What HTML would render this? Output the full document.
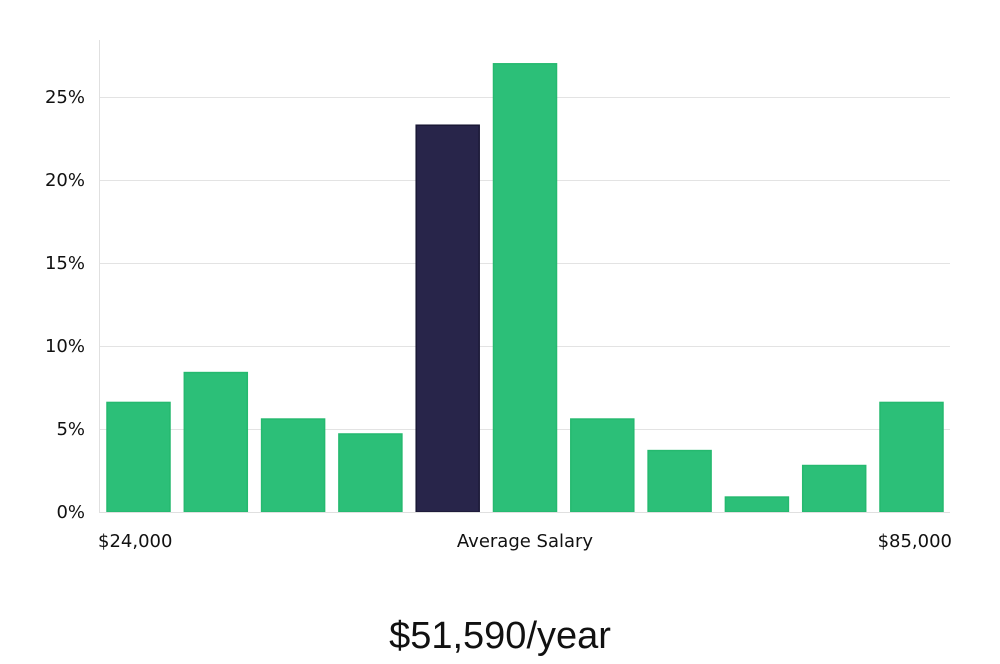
<!DOCTYPE html>
<html><head><meta charset="utf-8"><style>
body{margin:0;background:#fff;width:1000px;height:660px;overflow:hidden;font-family:"DejaVu Sans","Liberation Sans",sans-serif;}
</style></head><body>
<svg width="1000" height="660">
<g id="grid"></g><g id="bars"></g><g id="labels"></g>
<line x1="99.5" y1="40" x2="99.5" y2="512" stroke="#e0e0e0"/>
<line x1="99" y1="512.5" x2="950" y2="512.5" stroke="#e0e0e0"/>
<text x="98" y="547" font-size="18" fill="#111">$24,000</text>
<text x="525" y="547" font-size="18" fill="#111" text-anchor="middle">Average Salary</text>
<text x="952" y="547" font-size="18" fill="#111" text-anchor="end">$85,000</text>
<text x="500" y="648" font-size="38" fill="#111" text-anchor="middle" font-family="Liberation Sans, sans-serif">$51,590/year</text>
</svg>
<script>
const values=[6.6,8.4,5.6,4.7,23.3,27.0,5.6,3.7,0.9,2.8,6.6];
const highlight=[false,false,false,false,true,false,false,false,false,false,false];
const ticks=[0,5,10,15,20,25];
const tickLabels=["0%","5%","10%","15%","20%","25%"];
const NS="http://www.w3.org/2000/svg";
const y=v=>512-v*16.6;
const x=i=>107+i*77.3;
const grid=document.getElementById('grid'),bars=document.getElementById('bars'),labels=document.getElementById('labels');
ticks.forEach((t,i)=>{
  if(t>0){const l=document.createElementNS(NS,'line');
  l.setAttribute('x1',99);l.setAttribute('x2',950);l.setAttribute('y1',y(t)+0.5);l.setAttribute('y2',y(t)+0.5);l.setAttribute('stroke','#e3e3e3');
  
  
  grid.appendChild(l);}
  const tx=document.createElementNS(NS,'text');
  tx.setAttribute('x',85);tx.setAttribute('y',y(t)+6);tx.setAttribute('text-anchor','end');tx.setAttribute('font-size','18');tx.setAttribute('fill','#111');
  tx.textContent=tickLabels[i];
  
  
  labels.appendChild(tx);
});
values.forEach((v,i)=>{
  const r=document.createElementNS(NS,'rect');
  r.setAttribute('x',x(i));r.setAttribute('y',y(v));r.setAttribute('width',63);r.setAttribute('height',512-y(v));
  r.setAttribute('fill',highlight[i]?'#28254a':'#2cbf78');
  r.setAttribute('stroke',highlight[i]?'#1a1836':'#25b96f');r.setAttribute('stroke-width','1.5');
  
  
  bars.appendChild(r);
});
</script>
</body></html>
